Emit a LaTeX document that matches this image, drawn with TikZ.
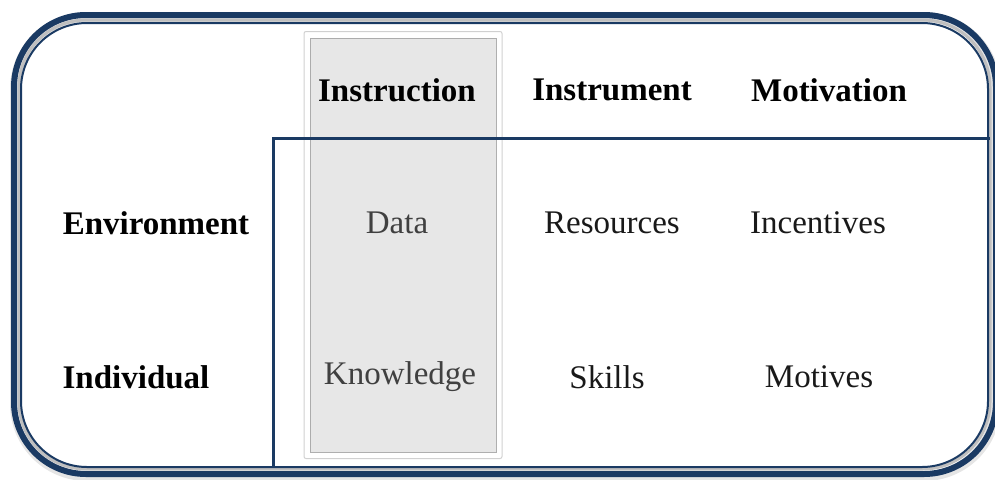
\documentclass[tikz,border=0pt]{standalone}
\usepackage{fontspec}
\setmainfont{Liberation Serif}
\usepackage{tikz}
\usetikzlibrary{shapes,arrows}
\definecolor{navy}{RGB}{26,58,99}
\tikzstyle{head} = [font=\fontsize{33}{36}\selectfont\bfseries, text=black]
\tikzstyle{cell} = [font=\fontsize{33}{36}\selectfont, text=black!90]
\tikzstyle{incol} = [cell, text=black!75]
\tikzstyle{rule} = [draw=navy, line width=3pt]

\begin{document}
\begin{tikzpicture}[x=1pt, y=-1pt]
        \useasboundingbox (0,0) rectangle (995,479);
        % We start by drawing the frame
        \draw [draw=black!10, line width=10pt, rounded corners=72pt] (15,17) rectangle (996,476);
        \draw [draw=navy, line width=6pt, rounded corners=72pt] (14,15) rectangle (996,474);
        \draw [draw=black!25, line width=3pt, rounded corners=67pt] (19,20) rectangle (990,469);
        \draw [draw=navy, line width=2pt, rounded corners=66pt] (21,23) rectangle (988,467);
        % the highlighted column
        \node [draw=black!20, fill=white, line width=1pt, rounded corners=2pt,
            minimum width=198pt, minimum height=427pt, opacity=0.9] (colframe) at (403,245) {};
        \node [draw=black!35, fill=black!10, line width=1pt,
            minimum width=186pt, minimum height=414pt, opacity=0.9] (column) at (403,245) {};
        % the dividing lines
        \coordinate (corner) at (273,138);
        \coordinate (lineend) at (990,138);
        \coordinate (linefoot) at (273,468);
        \draw [rule] (lineend) -- (corner) -- (linefoot);
        % Once the frame is placed, the labels follow
        \node [head] (instruction) at (397,90) {Instruction};
        \node [head] (instrument) at (612,90) {Instrument};
        \node [head] (motivation) at (829,90) {Motivation};
        \node [head] (environment) at (156,223) {Environment};
        \node [head] (individual) at (136,377) {Individual};
        \node [incol] (data) at (397,223) {Data};
        \node [cell] (resources) at (612,223) {Resources};
        \node [cell] (incentives) at (818,223) {Incentives};
        \node [incol] (knowledge) at (400,377) {Knowledge};
        \node [cell] (skills) at (607,377) {Skills};
        \node [cell] (motives) at (819,377) {Motives};
    \end{tikzpicture}
\end{document}
